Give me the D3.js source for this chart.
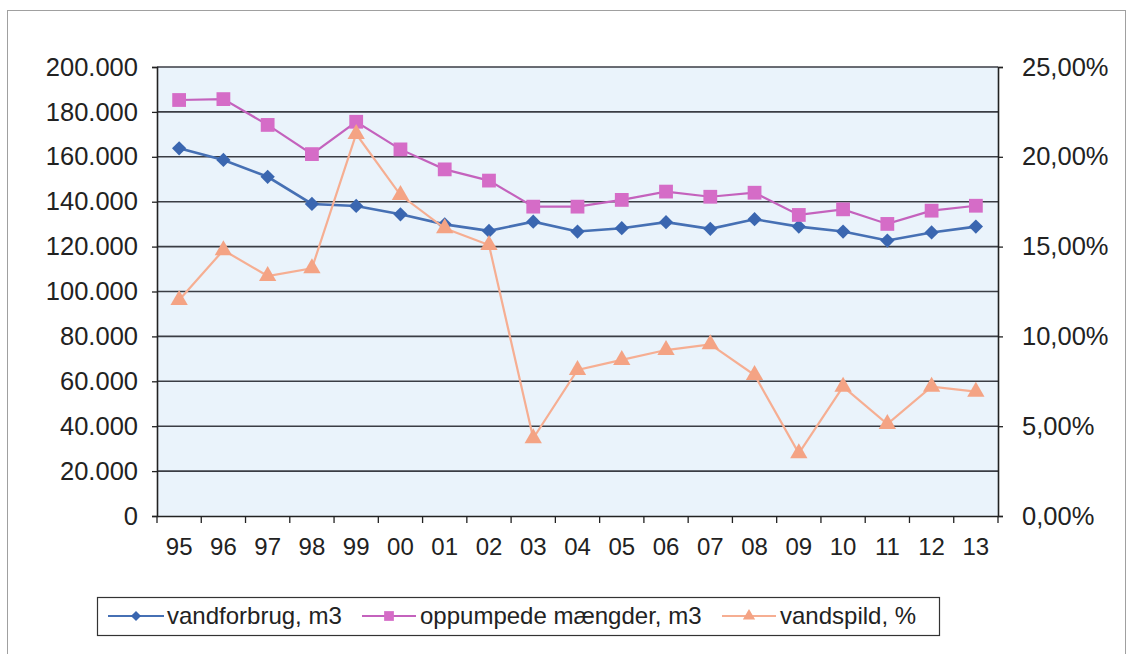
<!DOCTYPE html>
<html><head><meta charset="utf-8">
<script src="https://cdn.jsdelivr.net/npm/d3@7"></script>
<style>body{margin:0;background:#fff}svg{display:block}</style>
</head><body>
<svg id="c" width="1131" height="654"></svg>
<script>
const years = ["95","96","97","98","99","00","01","02","03","04","05","06","07","08","09","10","11","12","13"];
const vandforbrug = [163800,158600,151100,139000,138100,134400,129900,127000,131100,126700,128200,130900,127900,132200,128900,126700,122700,126300,128900];
const oppumpede = [185300,185700,174200,161200,175600,163300,154400,149400,137800,137800,140800,144500,142200,144000,134100,136600,130100,136000,138200];
const vandspild = [12.03,14.8,13.36,13.79,21.27,17.87,16.02,15.09,4.33,8.13,8.69,9.24,9.56,7.85,3.49,7.2,5.12,7.2,6.92];
const leftTicks = [0,20000,40000,60000,80000,100000,120000,140000,160000,180000,200000];
const rightTicks = [0,5,10,15,20,25];
const seriesNames = ["vandforbrug, m3","oppumpede mængder, m3","vandspild, %"];

const svg = d3.select("#c");
const L=157, R=998, T=67, B=516;
const font = "Liberation Sans, Arial, sans-serif";

// outer frame
svg.append("rect").attr("x",7.5).attr("y",10.5).attr("width",1118).attr("height",660)
  .attr("fill","none").attr("stroke","#a0a0a0").attr("stroke-width",1);

const x = d3.scaleBand().domain(years).range([L,R]);
const yL = d3.scaleLinear().domain([0,200000]).range([B,T]);
const yR = d3.scaleLinear().domain([0,25]).range([B,T]);

svg.append("rect").attr("x",L).attr("y",T).attr("width",R-L).attr("height",B-T).attr("fill","#eaf3fb");

// gridlines
svg.append("g").selectAll("line").data(leftTicks.filter(d=>d>0)).join("line")
  .attr("x1",L).attr("x2",R).attr("y1",d=>yL(d)).attr("y2",d=>yL(d))
  .attr("stroke","#3a3d44").attr("stroke-width",1.6);

const fmtL = d => d===0 ? "0" : d3.format(",")(d).replace(/,/g,".");
const fmtR = d => d.toFixed(2).replace(".",",")+"%";

const gl = svg.append("g").attr("transform",`translate(${L},0)`)
  .call(d3.axisLeft(yL).tickValues(leftTicks).tickFormat(fmtL).tickSize(5).tickPadding(14));
const gr = svg.append("g").attr("transform",`translate(${R},0)`)
  .call(d3.axisRight(yR).tickValues(rightTicks).tickFormat(fmtR).tickSize(5).tickPadding(19));
const gb = svg.append("g").attr("transform",`translate(0,${B})`)
  .call(d3.axisBottom(x).tickSize(0).tickPadding(31));
// category separator ticks on x axis
svg.append("g").selectAll("line").data(years.concat(["end"])).join("line")
  .attr("x1",(d,i)=>L+i*x.step()).attr("x2",(d,i)=>L+i*x.step())
  .attr("y1",B).attr("y2",B+7).attr("stroke","#222").attr("stroke-width",1.3);

[gl,gr,gb].forEach(g=>{
  g.selectAll("text").attr("font-family",font).attr("font-size",25.5).attr("fill","#222");
  g.selectAll(".domain").attr("stroke","#222").attr("stroke-width",1.6);
  g.selectAll(".tick line").attr("stroke","#222").attr("stroke-width",1.3);
});
gb.selectAll("text").attr("font-size",24).attr("dy","0.32em");

const cx = d => x(d)+x.bandwidth()/2;

const series = [
  {vals:vandforbrug, y:yL, line:"#4670b4", mark:"#3a66b0", sym:d3.symbolDiamond2, size:130, w:2.6},
  {vals:oppumpede, y:yL, line:"#c462bd", mark:"#d56cc7", sym:d3.symbolSquare, size:190, w:2.2},
  {vals:vandspild, y:yR, line:"#f6ae92", mark:"#f4a384", sym:d3.symbolTriangle, size:130, w:2.2}
];
series.forEach(s=>{
  const pts = years.map((yr,i)=>[cx(yr), s.y(s.vals[i])]);
  svg.append("path").attr("d",d3.line()(pts)).attr("fill","none")
    .attr("stroke",s.line).attr("stroke-width",s.w);
  svg.append("g").selectAll("path").data(pts).join("path")
    .attr("transform",d=>`translate(${d[0]},${d[1]})`)
    .attr("d",d3.symbol(s.sym,s.size)).attr("fill",s.mark);
});

// legend
svg.append("rect").attr("x",97.5).attr("y",597.5).attr("width",842).attr("height",38)
  .attr("fill","#fff").attr("stroke","#333").attr("stroke-width",1.2);
const legX = [[108,164,167],[362,416,420],[722,776,780]];
series.forEach((s,i)=>{
  const [a,b,t]=legX[i], yy=616;
  svg.append("line").attr("x1",a).attr("x2",b).attr("y1",yy).attr("y2",yy).attr("stroke",s.line).attr("stroke-width",2);
  svg.append("path").attr("transform",`translate(${(a+b)/2},${yy})`).attr("d",d3.symbol(s.sym,s.size*0.5)).attr("fill",s.mark);
  svg.append("text").attr("x",t).attr("y",yy).attr("dy","0.35em").attr("font-family",font)
    .attr("font-size",24).attr("fill","#222").text(seriesNames[i]);
});
</script>
</body></html>
